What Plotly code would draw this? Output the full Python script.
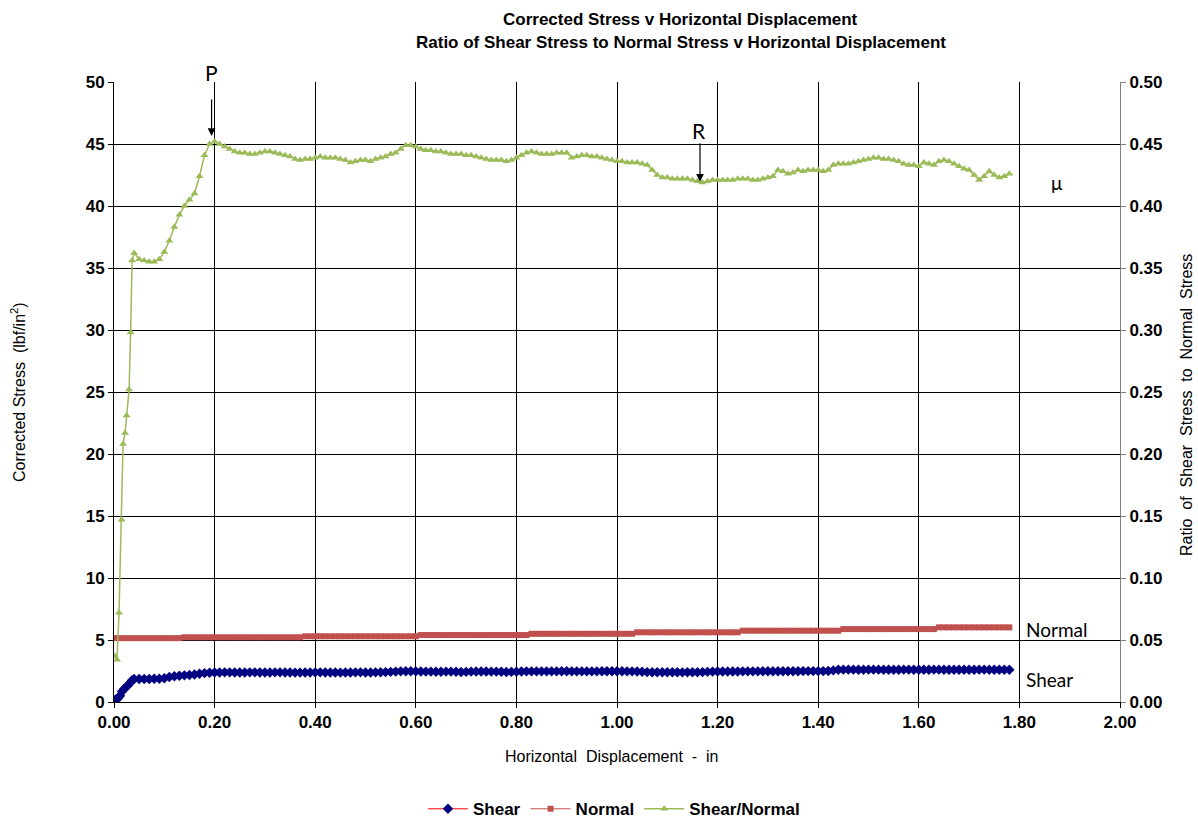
import plotly.graph_objects as go

# ---------------- data ----------------
# common displacement grid 0.05 .. 1.78 in (step 0.01)
disp_grid = [round(0.05 + 0.01 * i, 2) for i in range(174)]

# start of each series (fine sampling near zero)
shear_x0 = [0.000, 0.004, 0.008, 0.012, 0.016, 0.020, 0.024, 0.028, 0.032, 0.036, 0.040]
shear_y0 = [0.15, 0.20, 0.30, 0.50, 0.85, 1.05, 1.20, 1.35, 1.55, 1.75, 1.85]

normal_x0 = [0.00, 0.01, 0.02, 0.03, 0.04]
normal_y0 = [5.15, 5.15, 5.15, 5.15, 5.15]

ratio_x0 = [0.002, 0.006, 0.010, 0.015, 0.018, 0.022, 0.025, 0.030, 0.033, 0.036, 0.040]
ratio_y0 = [0.037, 0.034, 0.072, 0.147, 0.208, 0.217, 0.231, 0.252, 0.298, 0.356, 0.362]

shear_grid = [
    1.85, 1.85, 1.86, 1.87, 1.88, 1.92, 2.02, 2.08, 2.12, 2.15,
    2.18, 2.22, 2.28, 2.33, 2.36, 2.38, 2.38, 2.39, 2.39, 2.38,
    2.38, 2.38, 2.39, 2.39, 2.38, 2.38, 2.38, 2.39, 2.39, 2.38,
    2.38, 2.37, 2.37, 2.38, 2.38, 2.39, 2.39, 2.38, 2.38, 2.38,
    2.37, 2.38, 2.38, 2.39, 2.39, 2.38, 2.38, 2.39, 2.40, 2.41,
    2.43, 2.45, 2.47, 2.48, 2.48, 2.47, 2.46, 2.45, 2.45, 2.44,
    2.44, 2.45, 2.45, 2.44, 2.42, 2.43, 2.45, 2.46, 2.46, 2.46,
    2.45, 2.45, 2.44, 2.42, 2.43, 2.44, 2.46, 2.47, 2.47, 2.47,
    2.47, 2.47, 2.47, 2.47, 2.48, 2.48, 2.47, 2.47, 2.47, 2.47,
    2.47, 2.47, 2.48, 2.48, 2.48, 2.48, 2.48, 2.47, 2.47, 2.46,
    2.44, 2.41, 2.40, 2.40, 2.40, 2.40, 2.40, 2.40, 2.39, 2.40,
    2.40, 2.40, 2.41, 2.43, 2.45, 2.46, 2.46, 2.46, 2.46, 2.46,
    2.47, 2.47, 2.47, 2.47, 2.48, 2.48, 2.48, 2.48, 2.48, 2.48,
    2.48, 2.48, 2.49, 2.49, 2.49, 2.49, 2.49, 2.50, 2.55, 2.60,
    2.61, 2.61, 2.61, 2.60, 2.60, 2.61, 2.61, 2.61, 2.60, 2.60,
    2.60, 2.60, 2.61, 2.61, 2.60, 2.60, 2.60, 2.60, 2.61, 2.61,
    2.60, 2.60, 2.60, 2.60, 2.60, 2.60, 2.60, 2.61, 2.61, 2.60,
    2.60, 2.60, 2.60, 2.60,
]

normal_grid = [
    5.15, 5.15, 5.15, 5.15, 5.15, 5.15, 5.15, 5.15, 5.15, 5.22,
    5.22, 5.22, 5.22, 5.22, 5.22, 5.22, 5.22, 5.22, 5.22, 5.22,
    5.22, 5.22, 5.22, 5.22, 5.22, 5.22, 5.22, 5.22, 5.22, 5.22,
    5.22, 5.22, 5.22, 5.30, 5.30, 5.30, 5.30, 5.30, 5.30, 5.30,
    5.30, 5.30, 5.30, 5.30, 5.30, 5.30, 5.30, 5.30, 5.30, 5.30,
    5.30, 5.30, 5.30, 5.30, 5.30, 5.30, 5.40, 5.40, 5.40, 5.40,
    5.40, 5.40, 5.40, 5.40, 5.40, 5.40, 5.40, 5.40, 5.40, 5.40,
    5.40, 5.40, 5.40, 5.40, 5.40, 5.40, 5.40, 5.40, 5.50, 5.50,
    5.50, 5.50, 5.50, 5.50, 5.50, 5.50, 5.50, 5.50, 5.50, 5.50,
    5.50, 5.50, 5.50, 5.50, 5.50, 5.50, 5.50, 5.50, 5.50, 5.62,
    5.62, 5.62, 5.62, 5.62, 5.62, 5.62, 5.62, 5.62, 5.62, 5.62,
    5.62, 5.62, 5.62, 5.62, 5.62, 5.62, 5.62, 5.62, 5.62, 5.62,
    5.75, 5.75, 5.75, 5.75, 5.75, 5.75, 5.75, 5.75, 5.75, 5.75,
    5.75, 5.75, 5.75, 5.75, 5.75, 5.75, 5.75, 5.75, 5.75, 5.75,
    5.88, 5.88, 5.88, 5.88, 5.88, 5.88, 5.88, 5.88, 5.88, 5.88,
    5.88, 5.88, 5.88, 5.88, 5.88, 5.88, 5.88, 5.88, 5.88, 6.02,
    6.02, 6.02, 6.02, 6.02, 6.02, 6.02, 6.02, 6.02, 6.02, 6.02,
    6.02, 6.02, 6.02, 6.02,
]

ratio_grid = [
    0.357, 0.356, 0.355, 0.355, 0.357, 0.363, 0.372, 0.383, 0.393, 0.400,
    0.405, 0.410, 0.424, 0.441, 0.450, 0.452, 0.450, 0.448, 0.446, 0.444,
    0.443, 0.443, 0.442, 0.442, 0.443, 0.444, 0.444, 0.443, 0.442, 0.441,
    0.440, 0.438, 0.437, 0.438, 0.438, 0.439, 0.440, 0.439, 0.439, 0.439,
    0.438, 0.437, 0.435, 0.436, 0.437, 0.437, 0.436, 0.438, 0.439, 0.440,
    0.442, 0.443, 0.446, 0.449, 0.449, 0.448, 0.446, 0.445, 0.445, 0.444,
    0.444, 0.443, 0.442, 0.442, 0.442, 0.441, 0.441, 0.440, 0.439, 0.438,
    0.437, 0.437, 0.437, 0.436, 0.437, 0.439, 0.441, 0.443, 0.444, 0.443,
    0.442, 0.442, 0.442, 0.443, 0.443, 0.443, 0.439, 0.440, 0.441, 0.441,
    0.440, 0.440, 0.439, 0.438, 0.437, 0.436, 0.436, 0.435, 0.435, 0.435,
    0.434, 0.433, 0.429, 0.425, 0.423, 0.423, 0.422, 0.422, 0.422, 0.422,
    0.421, 0.420, 0.419, 0.420, 0.421, 0.421, 0.421, 0.421, 0.421, 0.422,
    0.422, 0.422, 0.421, 0.421, 0.422, 0.423, 0.424, 0.429, 0.428, 0.426,
    0.427, 0.429, 0.428, 0.429, 0.429, 0.429, 0.428, 0.429, 0.433, 0.434,
    0.434, 0.434, 0.435, 0.436, 0.437, 0.438, 0.439, 0.439, 0.438, 0.438,
    0.437, 0.436, 0.434, 0.433, 0.433, 0.432, 0.435, 0.434, 0.433, 0.436,
    0.437, 0.436, 0.434, 0.432, 0.430, 0.429, 0.425, 0.421, 0.424, 0.428,
    0.425, 0.423, 0.424, 0.426,
]

shear_x = shear_x0 + disp_grid
shear_y = shear_y0 + shear_grid
normal_x = normal_x0 + disp_grid
normal_y = normal_y0 + normal_grid
ratio_x = ratio_x0 + disp_grid
ratio_y = ratio_y0 + ratio_grid

x_ticks = [0.0, 0.2, 0.4, 0.6, 0.8, 1.0, 1.2, 1.4, 1.6, 1.8, 2.0]

# ---------------- figure ----------------
ARIAL = "Liberation Sans, Arial, sans-serif"
CAL = "Lato, Carlito, Calibri, sans-serif"

fig = go.Figure()

fig.add_trace(go.Scatter(
    x=shear_x, y=shear_y, name="Shear", mode="lines+markers",
    line=dict(color="#FF0000", width=1),
    marker=dict(symbol="diamond", size=8, color="#000080",
                line=dict(width=0)),
))
fig.add_trace(go.Scatter(
    x=normal_x, y=normal_y, name="Normal", mode="lines+markers",
    line=dict(color="#C0504D", width=1),
    marker=dict(symbol="square", size=6, color="#C0504D",
                line=dict(width=0)),
))
fig.add_trace(go.Scatter(
    x=ratio_x, y=ratio_y, name="Shear/Normal", mode="lines+markers",
    yaxis="y2",
    line=dict(color="#9BBB59", width=1.5),
    marker=dict(symbol="triangle-up", size=7, color="#9BBB59",
                line=dict(width=0)),
))

tick_font = dict(family=ARIAL, size=17, color="black", weight="bold")

fig.update_layout(
    width=1198, height=818,
    margin=dict(l=114, r=78, t=82, b=116, autoexpand=False),
    paper_bgcolor="white", plot_bgcolor="white",
    font=dict(family=ARIAL, color="black"),
    showlegend=True,
    legend=dict(orientation="h", x=0.497, xanchor="center",
                y=-0.173, yanchor="middle",
                font=dict(family=ARIAL, size=17, color="black", weight="bold"),
                itemwidth=40, tracegroupgap=0),
    xaxis=dict(range=[0, 2.0], tickvals=x_ticks, tickformat=".2f",
               showgrid=True, gridcolor="black", gridwidth=1,
               showline=True, linecolor="black", linewidth=1,
               ticks="outside", ticklen=5, tickcolor="black",
               tickfont=tick_font, zeroline=False),
    yaxis=dict(range=[0, 50], dtick=5, tickformat="d",
               showgrid=True, gridcolor="black", gridwidth=1,
               showline=True, linecolor="black", linewidth=1,
               ticks="outside", ticklen=5, tickcolor="black",
               tickfont=tick_font, zeroline=False),
    yaxis2=dict(range=[0, 0.5], dtick=0.05, tickformat=".2f",
                overlaying="y", side="right", showgrid=False,
                showline=True, linecolor="#808080", linewidth=1,
                ticks="outside", ticklen=5, tickcolor="#808080",
                tickfont=tick_font, zeroline=False),
)

ann = []
title_font = dict(family=ARIAL, size=17, color="black", weight="bold")
# two-line title
ann.append(dict(text="Corrected Stress v Horizontal Displacement",
                xref="paper", yref="paper", x=0.5636, y=1.1016,
                showarrow=False, font=title_font,
                xanchor="center", yanchor="middle"))
ann.append(dict(text="Ratio of Shear Stress to Normal Stress v Horizontal Displacement",
                xref="paper", yref="paper", x=0.5636, y=1.0645,
                showarrow=False, font=title_font,
                xanchor="center", yanchor="middle"))
# axis titles
lab_font = dict(family=ARIAL, size=16, color="black")
ann.append(dict(text="Corrected Stress  (lbf/in<sup>2</sup>)",
                xref="paper", yref="paper", x=-0.0954, y=0.5, textangle=-90,
                showarrow=False, font=lab_font,
                xanchor="center", yanchor="middle"))
ann.append(dict(text="Ratio  of  Shear  Stress  to  Normal  Stress",
                xref="paper", yref="paper", x=1.0656, y=0.479, textangle=-90,
                showarrow=False, font=lab_font,
                xanchor="center", yanchor="middle"))
ann.append(dict(text="Horizontal  Displacement  -  in",
                xref="paper", yref="paper", x=0.495, y=-0.0887,
                showarrow=False, font=lab_font,
                xanchor="center", yanchor="middle"))
# P and R markers
ann.append(dict(text="P", xref="x", yref="paper", x=0.193, y=1.016, showarrow=False,
                font=dict(family=CAL, size=21, color="black"),
                xanchor="center", yanchor="middle"))
ann.append(dict(text="", xref="x", yref="y", x=0.194, y=45.65, ax=0, ay=-38,
                showarrow=True, arrowhead=2, arrowsize=1.3, arrowwidth=1.2,
                arrowcolor="black", standoff=0))
ann.append(dict(text="R", xref="x", yref="y", x=1.164, y=46.07, showarrow=False,
                font=dict(family=CAL, size=21, color="black"),
                xanchor="center", yanchor="middle"))
ann.append(dict(text="", xref="x", yref="y", x=1.165, y=41.96, ax=0, ay=-40,
                showarrow=True, arrowhead=2, arrowsize=1.3, arrowwidth=1.2,
                arrowcolor="black", standoff=0))
# curve labels
cur_font = dict(family=CAL, size=19, color="black")
ann.append(dict(text="μ", xref="x", yref="y", x=1.875, y=41.88, showarrow=False,
                font=cur_font, xanchor="center", yanchor="middle"))
ann.append(dict(text="Normal", xref="x", yref="y", x=1.809, y=5.86, showarrow=False,
                font=cur_font, xanchor="left", yanchor="middle"))
ann.append(dict(text="Shear", xref="x", yref="y", x=1.809, y=1.83, showarrow=False,
                font=cur_font, xanchor="left", yanchor="middle"))

fig.update_layout(annotations=ann)

fig.write_html("out.html",
               config={"displayModeBar": False},
               post_script="document.body.style.margin='0px';document.body.style.padding='0px';")
